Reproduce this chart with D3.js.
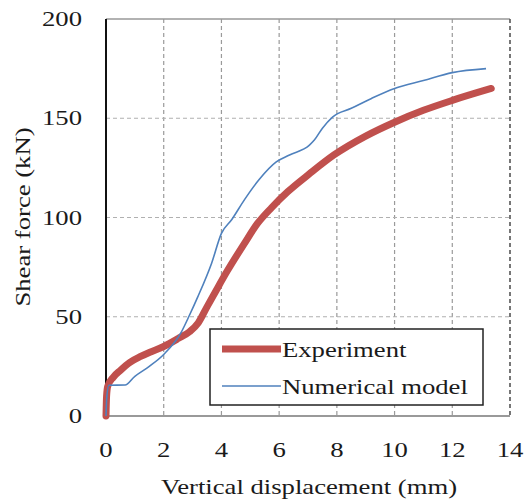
<!DOCTYPE html>
<html>
<head>
<meta charset="utf-8">
<script src="https://cdn.jsdelivr.net/npm/d3@7"></script>
<style>
  html, body { margin: 0; padding: 0; background: #fff; }
  svg { display: block; }
</style>
</head>
<body>
<svg id="chart" width="531" height="503"></svg>
<script>
// Load–displacement response: test vs. numerical model
const expDisp  = [0, 0.02, 0.06, 0.25, 0.5, 0.83, 1.2, 1.5, 2.0, 2.5, 2.9, 3.2, 3.5, 3.77, 4.2, 4.8, 5.25, 5.74, 6.3, 7.05, 7.9, 9.0, 10.0, 11.0, 12.0, 13.35];
const expForce = [0, 10, 15, 19.5, 23, 27, 30, 32, 35, 39, 42.5, 47, 55, 62, 73, 87, 97, 105, 113, 122, 131.5, 141, 148, 154, 159, 165];

const numDisp  = [0, 0.03, 0.1, 0.66, 1.0, 1.5, 2.0, 2.6, 2.9, 3.18, 3.66, 4.0, 4.36, 4.8, 5.3, 5.9, 6.36, 7.05, 7.22, 7.5, 7.85, 8.5, 9.2, 10.0, 11.0, 12.0, 13.17];
const numForce = [0, 10, 15.5, 15.6, 20, 25, 31, 42, 51, 60, 77, 92, 99, 109, 119, 128, 131.5, 136.5, 139, 145, 150.6, 155, 160, 165, 169, 173, 175];

const xTicks = [0, 2, 4, 6, 8, 10, 12, 14];
const yTicks = [0, 50, 100, 150, 200];
const seriesNames = ["Experiment", "Numerical model"];

const FONT = "'Liberation Serif', 'Times New Roman', Tinos, Times, serif";

const svg = d3.select("#chart").attr("font-family", FONT);
const m = { left: 106, top: 19, right: 510, bottom: 416 };

const x = d3.scaleLinear().domain([0, 14]).range([m.left, m.right]);
const y = d3.scaleLinear().domain([0, 200]).range([m.bottom, m.top]);

const WIDE = 1.27; // glyph widening used for all labels

// grid
const grid = svg.append("g");
grid.selectAll(".vg").data(xTicks.filter(d => d > 0 && d < 14)).enter().append("line")
  .attr("x1", d => x(d)).attr("x2", d => x(d)).attr("y1", m.top).attr("y2", m.bottom)
  .attr("stroke", "#9a9a9a").attr("stroke-width", 1.2).attr("stroke-dasharray", "4,3");
grid.selectAll(".hg").data(yTicks.filter(d => d > 0 && d < 200)).enter().append("line")
  .attr("x1", m.left).attr("x2", m.right).attr("y1", d => y(d)).attr("y2", d => y(d))
  .attr("stroke", "#b0b0b0").attr("stroke-width", 1.2).attr("stroke-dasharray", "4,3");

// frame
svg.append("line").attr("x1", m.left).attr("x2", m.right).attr("y1", y(200)).attr("y2", y(200))
  .attr("stroke", "#999").attr("stroke-width", 1.5);
svg.append("line").attr("x1", x(14)).attr("x2", x(14)).attr("y1", m.top).attr("y2", m.bottom)
  .attr("stroke", "#555").attr("stroke-width", 1.6).attr("stroke-dasharray", "4,3");
svg.append("line").attr("x1", m.left).attr("x2", m.right).attr("y1", y(0)).attr("y2", y(0))
  .attr("stroke", "#999").attr("stroke-width", 2);
svg.append("line").attr("x1", x(0)).attr("x2", x(0)).attr("y1", m.top).attr("y2", m.bottom)
  .attr("stroke", "#111").attr("stroke-width", 2);

const label = sel => sel.attr("font-family", FONT).attr("fill", "#1a1a1a");

// tick labels
svg.selectAll(".xt").data(xTicks).enter().append("text").call(label)
  .attr("transform", d => `translate(${x(d)},457) scale(${WIDE},1)`)
  .attr("text-anchor", "middle").attr("font-size", 21).text(d => d);
svg.selectAll(".yt").data(yTicks).enter().append("text").call(label)
  .attr("transform", d => `translate(82,${y(d) + 7}) scale(${WIDE},1)`)
  .attr("text-anchor", "end").attr("font-size", 21).text(d => d);

// axis titles
svg.append("text").call(label)
  .attr("transform", `translate(309,494) scale(${WIDE},1)`)
  .attr("text-anchor", "middle").attr("font-size", 21).text("Vertical displacement (mm)");
svg.append("text").call(label)
  .attr("transform", `translate(30,217) rotate(-90) scale(${WIDE},1)`)
  .attr("text-anchor", "middle").attr("font-size", 21).text("Shear force (kN)");

// curves
const line = d3.line().x(d => x(d[0])).y(d => y(d[1])).curve(d3.curveMonotoneX);
const expPts = expDisp.map((d, i) => [d, expForce[i]]);
const numPts = numDisp.map((d, i) => [d, numForce[i]]);

svg.append("path").datum(expPts).attr("d", line)
  .attr("fill", "none").attr("stroke", "#c0504d").attr("stroke-width", 7)
  .attr("stroke-linecap", "round").attr("stroke-linejoin", "round");
svg.append("path").datum(numPts).attr("d", line)
  .attr("fill", "none").attr("stroke", "#4f81bd").attr("stroke-width", 1.6)
  .attr("stroke-linejoin", "round");

// legend
const lg = svg.append("g");
lg.append("rect").attr("x", 210).attr("y", 329).attr("width", 273).attr("height", 76)
  .attr("fill", "#fff").attr("stroke", "#222").attr("stroke-width", 1.5);
const legendStyles = [
  { color: "#c0504d", width: 7, yy: 349 },
  { color: "#4f81bd", width: 1.6, yy: 386 }
];
seriesNames.forEach((name, i) => {
  const s = legendStyles[i];
  lg.append("line").attr("x1", 222).attr("x2", 281).attr("y1", s.yy).attr("y2", s.yy)
    .attr("stroke", s.color).attr("stroke-width", s.width);
  lg.append("text").call(label)
    .attr("transform", `translate(282,${s.yy + 8}) scale(${WIDE},1)`)
    .attr("font-size", 21).text(name);
});
</script>
</body>
</html>
